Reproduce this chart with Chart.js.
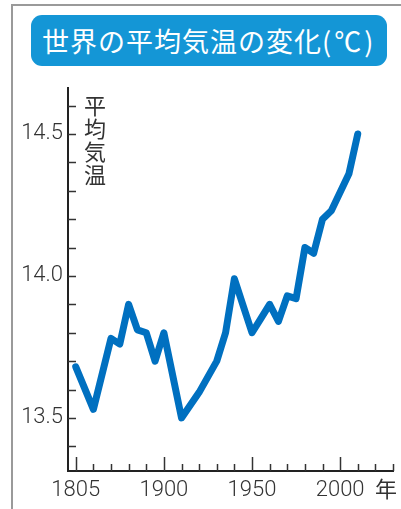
<!DOCTYPE html>
<html>
<head>
<meta charset="utf-8">
<script src="https://cdn.jsdelivr.net/npm/chart.js@4.4.1/dist/chart.umd.min.js"></script>
<style>
body { margin: 0; background: #fff; }
#wrap { position: relative; width: 401px; height: 509px; overflow: hidden; }
#frame { position: absolute; left: 11px; top: 4px; right: -5px; bottom: -5px; border-left: 2px solid #9a9a9a; border-top: 2px solid #9a9a9a; }
#title { position: absolute; left: 31px; top: 15px; width: 356px; height: 51px; background: #1496d6; border-radius: 11px;
  color: #fff; font: 27px 'Noto Sans CJK JP'; line-height: 51px; padding-left: 11px; box-sizing: border-box; white-space: nowrap; letter-spacing: 1px; }
#title .u { letter-spacing: 3px; }
#chart { position: absolute; left: 0; top: 0; }
</style>
</head>
<body>
<div id="wrap">
  <div id="frame"></div>
  <canvas id="chart" width="401" height="509"></canvas>
  <div id="title">世界の平均気温の変化<span class="u">(℃)</span></div>
</div>
<script>
'use strict'

// 年と平均気温
const years = [1850, 1860, 1870, 1875, 1880, 1885, 1890, 1895, 1900, 1910, 1920, 1930, 1935, 1940,
  1950, 1955, 1960, 1965, 1970, 1975, 1980, 1985, 1990, 1995, 2005, 2010];
const temps = [13.68, 13.53, 13.78, 13.76, 13.90, 13.81, 13.80, 13.70, 13.80, 13.50, 13.59, 13.70, 13.80, 13.99,
  13.80, 13.85, 13.90, 13.84, 13.93, 13.92, 14.10, 14.08, 14.20, 14.23, 14.36, 14.50];

// 目盛り
const xMajor = [1850, 1900, 1950, 2000];
const xLabels = ['1805', '1900', '1950', '2000'];
const xMinor = [1850, 1860, 1870, 1880, 1890, 1900, 1910, 1920, 1930, 1940, 1950, 1960, 1970, 1980, 1990, 2000, 2010, 2020, 2030];
const yMajor = [13.5, 14.0, 14.5];
const yLabels = ['13.5', '14.0', '14.5'];
const yMinor = [13.4, 13.5, 13.6, 13.7, 13.8, 13.9, 14.0, 14.1, 14.2, 14.3, 14.4, 14.5, 14.6];

const ink = '#333';

// inward ticks + axis texts
const extras = {
  id: 'extras',
  beforeDatasetsDraw(chart) {
    const ctx = chart.ctx;
    const x = chart.scales.x, y = chart.scales.y;
    const area = chart.chartArea;
    ctx.save();
    ctx.strokeStyle = ink;
    ctx.lineWidth = 1.5;
    xMinor.forEach(v => {
      const px = Math.round(x.getPixelForValue(v)) + 0.5;
      const len = xMajor.includes(v) ? 14 : 7;
      ctx.beginPath();
      ctx.moveTo(px, area.bottom);
      ctx.lineTo(px, area.bottom - len);
      ctx.stroke();
    });
    yMinor.forEach(v => {
      const py = Math.round(y.getPixelForValue(v)) + 0.5;
      ctx.beginPath();
      ctx.moveTo(area.left, py);
      ctx.lineTo(area.left + 8, py);
      ctx.stroke();
    });

    ctx.fillStyle = ink;
    ctx.font = "22px 'Noto Sans CJK JP'";
    ctx.textAlign = 'center';
    ctx.textBaseline = 'middle';
    const yTitle = '平均気温';
    for (let i = 0; i < yTitle.length; i++) {
      ctx.fillText(yTitle[i], 95, 106 + i * 23);
    }
    ctx.fillText('年', 386, 489);
    ctx.restore();
  }
};

new Chart(document.getElementById('chart'), {
  type: 'line',
  data: {
    datasets: [{
      data: years.map((yr, i) => ({ x: yr, y: temps[i] })),
      borderColor: '#0070c0',
      borderWidth: 7,
      borderCapStyle: 'round',
      borderJoinStyle: 'round',
      pointRadius: 0,
      tension: 0,
      clip: false
    }]
  },
  options: {
    responsive: false,
    animation: false,
    devicePixelRatio: 1,
    layout: { padding: { left: 0, top: 88, right: 8, bottom: 0 } },
    plugins: { legend: { display: false }, tooltip: { enabled: false } },
    scales: {
      x: {
        type: 'linear',
        min: 1845.6,
        max: 2030,
        grid: { display: false, drawTicks: false },
        border: { display: true, color: '#222', width: 2 },
        afterBuildTicks: s => { s.ticks = xMajor.map(v => ({ value: v })); },
        afterFit: s => { s.height = 38; },
        ticks: {
          padding: 6,
          maxRotation: 0,
          autoSkip: false,
          color: ink,
          font: { family: 'Roboto', size: 22, weight: '300' },
          callback: v => xLabels[xMajor.indexOf(v)] || ''
        }
      },
      y: {
        min: 13.313,
        max: 14.662,
        grid: { display: false, drawTicks: false },
        border: { display: true, color: '#222', width: 2 },
        afterBuildTicks: s => { s.ticks = yMajor.map(v => ({ value: v })); },
        afterFit: s => { s.width = 68; },
        ticks: {
          padding: 5,
          autoSkip: false,
          color: ink,
          font: { family: 'Roboto', size: 22, weight: '300' },
          callback: v => yLabels[yMajor.indexOf(v)] || ''
        }
      }
    }
  },
  plugins: [extras]
});
</script>
</body>
</html>
